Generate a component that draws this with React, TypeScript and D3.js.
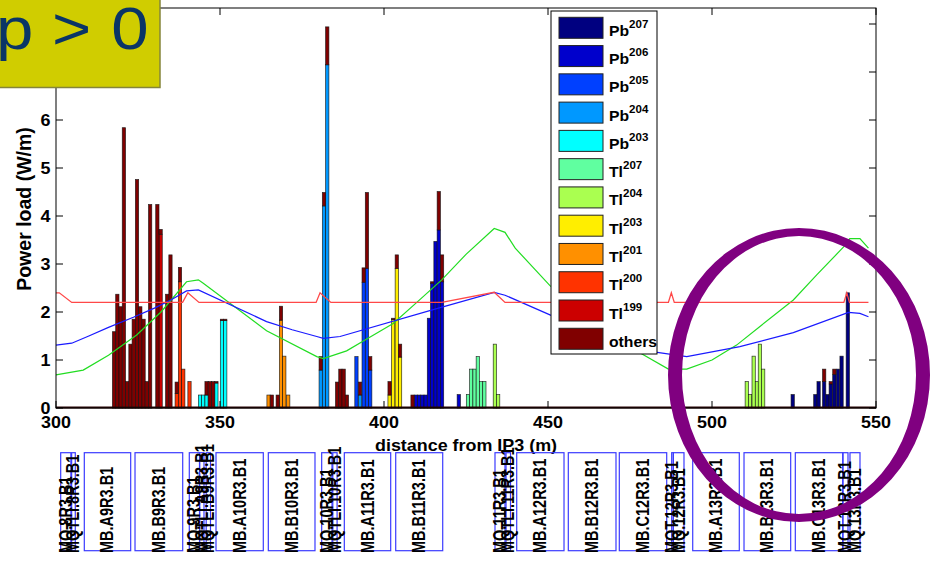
import React from 'react';
import * as d3 from 'd3';

const W = 934;
const H = 561;
const FONT = '"Liberation Sans", Arial, Helvetica, sans-serif';
const SX = 1.12; // horizontal glyph stretch used for upright text

// ---- isotopes (stack order: first at the bottom) ----
const isotopes = ['Pb207', 'Pb206', 'Pb205', 'Pb204', 'Pb203', 'Tl207', 'Tl204', 'Tl203', 'Tl201', 'Tl200', 'Tl199', 'others'];
const isotopeColors = ['#000080', '#0000cc', '#0040ff', '#0098ff', '#00ffff', '#60ffa0', '#aaff50', '#ffee00', '#ff9000', '#ff3300', '#cc0000', '#800000'];

// deposited power per 1 m bin: [bin centre (m), W/m]
const pb207: [number, number][] = [[524.6, 0.28], [531.5, 0.28], [532.5, 0.55], [534.2, 0.55], [535.2, 0.28], [536.2, 0.5], [537.3, 0.7], [538.4, 0.81], [539.5, 1.08], [541.4, 2.4]];
const pb206: [number, number][] = [[409.7, 0.27], [410.7, 0.27], [411.7, 0.27], [412.7, 0.27], [413.7, 1.87], [414.7, 2.6], [415.7, 3.47], [416.7, 3.71], [417.7, 2.63], [422.8, 0.28]];
const pb205: [number, number][] = [[391.6, 1.07], [393.8, 2.62], [394.8, 2.91], [395.8, 0.79]];
const pb204: [number, number][] = [[380.7, 0.79], [381.7, 4.21], [382.7, 7.15], [392.7, 0.27]];
const pb203: [number, number][] = [[343.9, 0.27], [344.9, 0.27], [345.9, 0.27], [348.9, 0.52], [350.6, 1.82], [351.6, 1.82]];
const tl207: [number, number][] = [[425.6, 0.28], [426.6, 0.81], [427.6, 0.81], [428.6, 1.07], [429.6, 0.55], [430.6, 0.55]];
const tl204: [number, number][] = [[433.8, 1.33], [434.8, 0.28], [510.6, 0.55], [511.6, 0.28], [512.7, 1.08], [513.7, 0.55], [514.6, 1.33], [515.6, 0.81]];
const tl203: [number, number][] = [[401.7, 0.27], [402.8, 1.84], [403.9, 2.91], [404.9, 1.06]];
const tl201: [number, number][] = [[364.8, 0.27], [368.6, 1.83], [369.6, 1.08], [370.8, 0.27]];
const tl200: [number, number][] = [[336.8, 0.3], [337.8, 2.63], [338.8, 0.81], [340.7, 0.55]];
const tl199: [number, number][] = [[331.9, 3.62]];
const others: [number, number][] = [
  [317.7, 1.59], [318.7, 2.37], [319.7, 2.11], [320.7, 5.84], [321.7, 0.55], [322.7, 1.33], [323.7, 1.85], [324.7, 4.76],
  [325.7, 2.11], [326.7, 1.85], [327.7, 0.55], [328.7, 4.24], [330.9, 4.24], [331.9, 0.1], [333.9, 2.37], [334.9, 3.19],
  [336.8, 0.24], [337.8, 0.3], [345.9, 0.28], [346.9, 0.55], [347.9, 0.55], [348.9, 0.03], [350.6, 0.03], [351.6, 0.03],
  [365.8, 0.27], [367.6, 0.27], [368.6, 0.29], [380.7, 0.28], [381.7, 0.28], [382.7, 0.79], [385.7, 0.54], [386.7, 0.81],
  [387.7, 0.81], [388.7, 0.27], [392.7, 0.27], [393.8, 0.3], [394.8, 1.58], [395.8, 0.28], [401.7, 0.28], [402.8, 0.03],
  [403.9, 0.28], [404.9, 0.27], [408.7, 0.27], [414.7, 0.03], [416.7, 0.8], [417.7, 0.56], [534.2, 0.26], [536.2, 0.05],
  [537.3, 0.11],
];
const isotopeSeries = [pb207, pb206, pb205, pb204, pb203, tl207, tl204, tl203, tl201, tl200, tl199, others];

// ---- reference curves: [s (m), value] ----
const apertureCurve: [number, number][] = [
  [300, 2.4], [301, 2.4], [304.8, 2.2], [338.6, 2.2], [340.2, 2.4], [343.6, 2.2], [379.3, 2.2], [380.5, 2.4], [383.8, 2.2],
  [417.6, 2.2], [433.6, 2.41], [436.9, 2.2], [486.7, 2.2], [487.6, 2.4], [488.5, 2.2], [540.2, 2.2], [541.1, 2.4], [541.9, 2.2], [547.7, 2.2],
];
const blueCurve: [number, number][] = [
  [300, 1.31], [304.8, 1.35], [310, 1.5], [316, 1.68], [323.6, 1.89], [330, 2.08], [335, 2.25], [339.8, 2.44], [343.4, 2.46],
  [364.2, 1.8], [372, 1.63], [379.5, 1.49], [381.5, 1.45], [386.6, 1.49], [415, 2.05], [433.6, 2.41], [436.9, 2.35],
  [450.6, 1.94], [460, 1.7], [470, 1.42], [478, 1.21], [492.3, 1.07], [508.5, 1.28], [524.8, 1.57], [541.6, 1.99], [545.1, 1.97], [547.7, 1.9],
];
const greenCurve: [number, number][] = [
  [300, 0.69], [308.3, 0.79], [316, 1.1], [324.6, 1.52], [332, 2.0], [339.8, 2.63], [343.4, 2.67], [344.9, 2.6], [364.2, 1.61],
  [379.5, 1.07], [381.5, 1.03], [388.6, 1.19], [395, 1.45], [402.8, 1.76], [410, 2.2], [417.6, 2.67], [425, 3.2], [433.6, 3.74],
  [436.9, 3.66], [440, 3.33], [450.6, 2.55], [460, 2.05], [470, 1.55], [478, 1.15], [486.7, 0.81], [492.3, 0.81], [500, 1.0],
  [507.5, 1.31], [515, 1.72], [524.8, 2.25], [532, 2.78], [540.2, 3.36], [542, 3.53], [545.1, 3.53], [547.7, 3.33],
];

// ---- magnet layout below the axis ----
const magnetNames = [
  'MQ.8R3.B1', 'MQTLI.8R3.B1', 'MB.A9R3.B1', 'MB.B9R3.B1', 'MQ.9R3.B1', 'MQTLI.A9R3.B1', 'MQTLI.B9R3.B1',
  'MB.A10R3.B1', 'MB.B10R3.B1', 'MQ.10R3.B1', 'MQTLI.10R3.B1', 'MB.A11R3.B1', 'MB.B11R3.B1', 'MQ.11R3.B1', 'MQTLI.11R3.B1',
  'MB.A12R3.B1', 'MB.B12R3.B1', 'MB.C12R3.B1', 'MQT.12R3.B1', 'MQ.12R3.B1', 'MB.A13R3.B1', 'MB.B13R3.B1', 'MB.C13R3.B1',
  'MQT.13R3.B1', 'MQ.13R3.B1',
];
const magnetStart = [301.43, 304.77, 308.63, 324.09, 340.64, 343.81, 345.79, 348.78, 364.73, 381.0, 384.39, 387.9, 403.57, 433.84, 437.2, 440.46, 456.19, 471.74, 487.71, 488.2, 494.12, 509.76, 525.4, 539.94, 542.07];
const magnetEnd = [304.54, 305.88, 322.77, 338.63, 343.75, 345.12, 347.1, 363.2, 378.96, 384.15, 385.7, 402.04, 417.9, 436.89, 438.57, 454.88, 470.73, 486.19, 488.2, 491.46, 508.32, 523.99, 539.85, 541.46, 545.12];

const xTicks = [300, 350, 400, 450, 500, 550];
const yTicks = [0, 1, 2, 3, 4, 5, 6, 7, 8];
const legendSub = ['207', '206', '205', '204', '203', '207', '204', '203', '201', '200', '199', ''];
const legendBase = ['Pb', 'Pb', 'Pb', 'Pb', 'Pb', 'Tl', 'Tl', 'Tl', 'Tl', 'Tl', 'Tl', 'others'];

// ---- layout ----
const plot = { left: 56, right: 876, top: 8, bottom: 408 };
const x = d3.scaleLinear().domain([300, 550]).range([plot.left, plot.right]);
const y = d3.scaleLinear().domain([0, 400 / 48]).range([plot.bottom, plot.top]);
const BIN = 1;

type Row = { [k: string]: number };
const centres = Array.from(new Set(isotopeSeries.flatMap((s) => s.map((d) => d[0])))).sort((a, b) => a - b);
const rows: Row[] = centres.map((c) => {
  const r: Row = { pos: c };
  isotopes.forEach((k, i) => {
    const f = isotopeSeries[i].find((d) => d[0] === c);
    r[k] = f ? f[1] : 0;
  });
  return r;
});
const layers = d3.stack<Row>().keys(isotopes)(rows);

const line = d3
  .line<[number, number]>()
  .x((d) => x(d[0]))
  .y((d) => y(d[1]));

function SText(props: { x: number; y: number; sx?: number; rot?: number; children: React.ReactNode; [k: string]: any }) {
  const { x: tx, y: ty, sx = SX, rot = 0, children, ...rest } = props;
  const tf = `translate(${tx},${ty}) scale(${sx},1)` + (rot ? ` rotate(${rot})` : '');
  return (
    <text transform={tf} fontFamily={FONT} {...rest}>
      {children}
    </text>
  );
}

export default function App() {
  const legendX = 551;
  const legendY = 11;
  const step = 28.27;
  return (
    <svg width={W} height={H} style={{ position: 'absolute', left: 0, top: 0, background: '#fff' }}>
      <rect x={0} y={0} width={W} height={H} fill="#fff" />

      {/* stacked bars */}
      <g>
        {layers.map((layer, i) =>
          layer
            .filter((d) => d[1] - d[0] > 0)
            .map((d, j) => (
              <rect
                key={`${i}-${j}`}
                x={x(d.data.pos - BIN / 2)}
                y={y(d[1])}
                width={x(d.data.pos + BIN / 2) - x(d.data.pos - BIN / 2)}
                height={y(d[0]) - y(d[1])}
                fill={isotopeColors[i]}
                stroke="#111"
                strokeWidth={0.7}
                strokeOpacity={0.85}
              />
            ))
        )}
      </g>
      {/* empty bins along the floor */}
      <line x1={x(300)} x2={x(550)} y1={y(0) - 0.5} y2={y(0) - 0.5} stroke="#2b0505" strokeWidth={2} />

      {/* curves */}
      <path d={line(greenCurve) || ''} fill="none" stroke="#22dd22" strokeWidth={1.2} />
      <path d={line(blueCurve) || ''} fill="none" stroke="#1a1aff" strokeWidth={1.2} />
      <path d={line(apertureCurve) || ''} fill="none" stroke="#ff4848" strokeWidth={1.3} />

      {/* axes frame and ticks */}
      <rect x={plot.left} y={plot.top} width={plot.right - plot.left} height={plot.bottom - plot.top} fill="none" stroke="#000" strokeWidth={1} />
      {xTicks.map((t) => (
        <g key={`xt${t}`}>
          <line x1={x(t)} x2={x(t)} y1={plot.bottom} y2={plot.bottom - 7} stroke="#000" />
          <line x1={x(t)} x2={x(t)} y1={plot.top} y2={plot.top + 7} stroke="#000" />
          <SText x={x(t)} y={428} fontSize={16} fontWeight="bold" textAnchor="middle">
            {t}
          </SText>
        </g>
      ))}
      {yTicks.map((t) => (
        <g key={`yt${t}`}>
          <line x1={plot.left} x2={plot.left + 7} y1={y(t)} y2={y(t)} stroke="#000" />
          <line x1={plot.right} x2={plot.right - 7} y1={y(t)} y2={y(t)} stroke="#000" />
          <SText x={50.5} y={y(t) + 6} fontSize={16} fontWeight="bold" textAnchor="end">
            {t}
          </SText>
        </g>
      ))}

      {/* axis titles */}
      <SText x={466} y={451} fontSize={16} fontWeight="bold" textAnchor="middle">
        distance from IP3 (m)
      </SText>
      <SText x={31} y={209} rot={-90} sx={1} fontSize={19.5} fontWeight="bold" textAnchor="middle">
        Power load (W/m)
      </SText>

      {/* magnet boxes */}
      {magnetNames.map((n, i) => {
        const a = x(magnetStart[i]);
        const b = x(magnetEnd[i]);
        return (
          <rect key={`mr${i}`} x={a} y={452.7} width={b - a} height={98} fill="none" stroke="#3b3bff" strokeWidth={1.2} />
        );
      })}
      {magnetNames.map((n, i) => {
        const c = (x(magnetStart[i]) + x(magnetEnd[i])) / 2;
        return (
          <SText key={`mt${i}`} x={c + 6} y={553} rot={-90} sx={1.25} fontSize={14.5} fontWeight="bold" textAnchor="start" fill="#000">
            {n}
          </SText>
        );
      })}

      {/* legend */}
      <rect x={legendX} y={legendY} width={106} height={343} fill="#fff" stroke="#000" strokeWidth={1} />
      {isotopes.map((k, i) => {
        const cy = 27.8 + i * step;
        return (
          <g key={`lg${k}`}>
            <rect x={559} y={cy - 10.5} width={44} height={21} fill={isotopeColors[i]} stroke="#222" strokeWidth={1} />
            <SText x={609} y={cy + 8} sx={1.05} fontSize={15} fontWeight="bold">
              {legendBase[i]}
              {legendSub[i] && (
                <tspan dy={-8} fontSize={11}>
                  {legendSub[i]}
                </tspan>
              )}
            </SText>
          </g>
        );
      })}

      {/* highlighted region */}
      <path
        d={`M ${799 - 131} 375 a 131 147 0 1 0 262 0 a 131 147 0 1 0 -262 0 Z M ${799 - 117} 375 a 117 139 0 1 0 234 0 a 117 139 0 1 0 -234 0 Z`}
        fill="#800080"
        fillRule="evenodd"
      />

      {/* title tag */}
      <rect x={-2} y={-2} width={162} height={89.5} fill="#d0cd00" stroke="#85853a" strokeWidth={1.5} />
      <SText x={-4} y={48.5} fontSize={60} fill="#0a3566">
        <tspan>p</tspan>
        <tspan x={50}>{'>'}</tspan>
        <tspan x={103}>0</tspan>
      </SText>
    </svg>
  );
}
